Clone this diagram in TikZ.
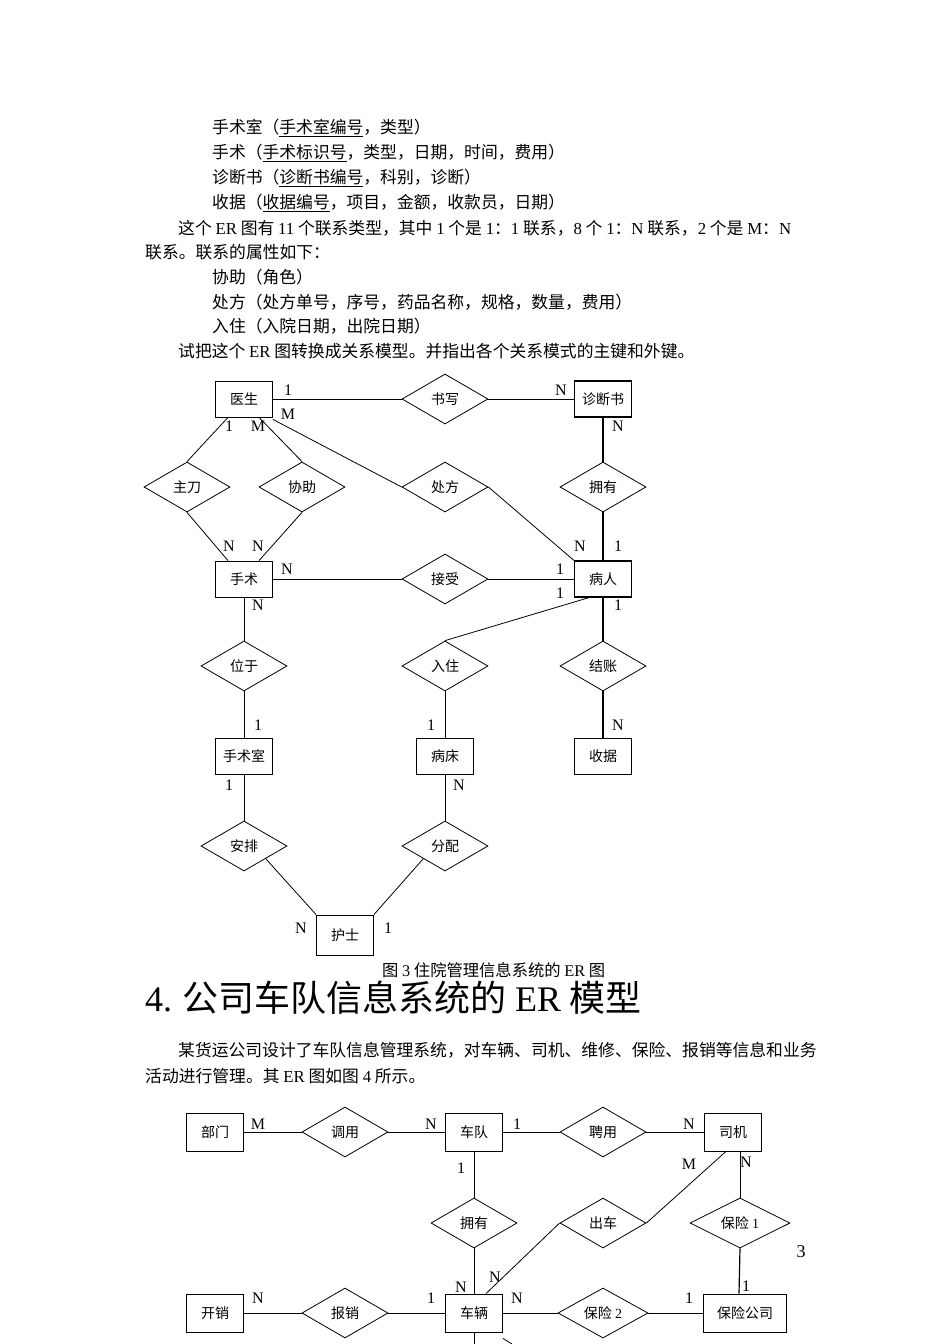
\documentclass[tikz,border=0pt]{standalone}
\usepackage{fontspec}
\setmainfont{Liberation Serif}
\newfontfamily\cjk{Noto Sans CJK SC}
\usetikzlibrary{shapes.geometric}
\begin{document}
\begin{tikzpicture}[x=1pt,y=-1pt,
 ent/.style={draw,thick,minimum width=57pt,minimum height=36pt,inner sep=0,font=\cjk\fontsize{14}{14}\selectfont},
 rel/.style={draw,thick,diamond,aspect=1.7,minimum width=86pt,minimum height=50pt,inner sep=0,font=\cjk\fontsize{14}{14}\selectfont},
 card/.style={font=\fontsize{16}{16}\selectfont,inner sep=0},
 txt/.style={anchor=west,inner sep=0,font=\cjk\fontsize{16.8}{17}\selectfont},
 ln/.style={thick}]
\useasboundingbox (0,0) rectangle (950,1344);
\fill[white] (0,0) rectangle (950,1344);
% text block
\node[txt] (t1) at (212,128) {手术室（\underline{手术室编号}，类型）};
\node[txt] (t2) at (212,153) {手术（\underline{手术标识号}，类型，日期，时间，费用）};
\node[txt] (t3) at (212,178) {诊断书（\underline{诊断书编号}，科别，诊断）};
\node[txt] (t4) at (212,203) {收据（\underline{收据编号}，项目，金额，收款员，日期）};
\node[txt] (t5) at (178,228) {这个 {\rmfamily ER} 图有 {\rmfamily 11} 个联系类型，其中 {\rmfamily 1} 个是 {\rmfamily 1}：{\rmfamily 1} 联系，{\rmfamily 8} 个 {\rmfamily 1}：{\rmfamily N} 联系，{\rmfamily 2} 个是 {\rmfamily M}：{\rmfamily N}};
\node[txt] (t6) at (145,252) {联系。联系的属性如下：};
\node[txt] (t7) at (212,277) {协助（角色）};
\node[txt] (t8) at (212,302) {处方（处方单号，序号，药品名称，规格，数量，费用）};
\node[txt] (t9) at (212,326) {入住（入院日期，出院日期）};
\node[txt] (t10) at (178,351) {试把这个 {\rmfamily ER} 图转换成关系模型。并指出各个关系模式的主键和外键。};
% top diagram
\node[ent] (ys) at (244,399) {医生};
\node[rel] (sx) at (445,399) {书写};
\node[ent,very thick] (zds) at (603,399) {诊断书};
\node[rel] (zd) at (187,487) {主刀};
\node[rel] (xz) at (302,487) {协助};
\node[rel] (cf) at (445,487) {处方};
\node[rel] (yy) at (603,487) {拥有};
\node[ent] (ss) at (244,579) {手术};
\node[rel] (js) at (445,579) {接受};
\node[ent,very thick] (br) at (603,579) {病人};
\node[rel] (wy) at (244,666) {位于};
\node[rel] (rz) at (445,666) {入住};
\node[rel] (jz) at (603,666) {结账};
\node[ent] (ssr) at (244,756) {手术室};
\node[ent] (bc) at (445,756) {病床};
\node[ent] (sj) at (603,756) {收据};
\node[rel] (ap) at (244,846) {安排};
\node[rel] (fp) at (445,846) {分配};
\node[ent,minimum height=40pt] (hs) at (345,935) {护士};
\draw[ln] (ys.east) -- (sx.west); \draw[ln] (sx.east) -- (zds.west);
\draw[ln] ([xshift=-16pt]ys.south) -- (zd.north); \draw[ln] (zd.south) -- ([xshift=-16pt]ss.north);
\draw[ln] ([xshift=15pt]ys.south) -- (xz.north); \draw[ln] (xz.south) -- ([xshift=15pt]ss.north);
\draw[ln] ([yshift=-2pt]ys.south east) -- (cf.west); \draw[ln] (cf.east) -- (br.north west);
\draw[very thick] (zds.south) -- (yy.north); \draw[very thick] (yy.south) -- (br.north);
\draw[ln] (ss.east) -- (js.west); \draw[ln] (js.east) -- (br.west);
\draw[ln] (ss.south) -- (wy.north); \draw[ln] (wy.south) -- (ssr.north);
\draw[ln] ([xshift=-14pt]br.south) -- (rz.north); \draw[ln] (rz.south) -- (bc.north);
\draw[very thick] (br.south) -- (jz.north); \draw[very thick] (jz.south) -- (sj.north);
\draw[ln] (ssr.south) -- (ap.north); \draw[ln] (bc.south) -- (fp.north);
\draw[ln] (ap.south east) -- (hs.north west); \draw[ln] (fp.south west) -- (hs.north east);
\node[card] (c1) at (288,390) {1}; \node[card] (c2) at (288,414) {M};
\node[card] (c3) at (229,426) {1}; \node[card] (c4) at (258,426) {M};
\node[card] (c5) at (561,390) {N}; \node[card] (c6) at (618,426) {N};
\node[card] (c7) at (229,546) {N}; \node[card] (c8) at (258,546) {N};
\node[card] (c9) at (580,546) {N}; \node[card] (c10) at (618,546) {1};
\node[card] (c11) at (287,569) {N}; \node[card] (c12) at (560,569) {1};
\node[card] (c13) at (560,593) {1}; \node[card] (c14) at (258,605) {N};
\node[card] (c15) at (618,605) {1};
\node[card] (c16) at (258,725) {1}; \node[card] (c17) at (431,725) {1}; \node[card] (c18) at (618,725) {N};
\node[card] (c19) at (229,785) {1}; \node[card] (c20) at (459,785) {N};
\node[card] (c21) at (301,928) {N}; \node[card] (c22) at (388,928) {1};
\node[txt,font=\cjk\fontsize{16.3}{16}\selectfont] (cap) at (382,970) {图 {\rmfamily 3} 住院管理信息系统的 {\rmfamily ER} 图};
\node[txt,font=\cjk\fontsize{36}{36}\selectfont] (h4) at (145,998) {{\rmfamily 4.} 公司车队信息系统的 {\rmfamily ER} 模型};
\node[txt] (p1) at (178,1050) {某货运公司设计了车队信息管理系统，对车辆、司机、维修、保险、报销等信息和业务};
\node[txt] (p2) at (145,1076) {活动进行管理。其 {\rmfamily ER} 图如图 {\rmfamily 4} 所示。};
\node[card,font=\fontsize{18}{18}\selectfont] (pg) at (801,1252) {3};
% bottom diagram
\begin{scope}[every node/.append style={font=\cjk\fontsize{16.5}{16}\selectfont}]
\node[ent,minimum height=38pt] (bm) at (215,1132) {部门};
\node[rel] (dy) at (345,1132) {调用};
\node[ent,minimum height=38pt] (cd) at (474,1132) {车队};
\node[rel] (py) at (603,1132) {聘用};
\node[ent,minimum height=38pt] (sjj) at (733,1132) {司机};
\node[rel] (yy2) at (474,1223) {拥有};
\node[rel] (cc) at (603,1223) {出车};
\node[rel,minimum width=100pt] (bx1) at (740,1223) {保险 {\rmfamily 1}};
\node[ent,minimum height=38pt] (kx) at (215,1313) {开销};
\node[rel] (bx) at (345,1313) {报销};
\node[ent,minimum height=38pt] (cl) at (474,1313) {车辆};
\node[rel,minimum width=90pt] (bx2) at (603,1313) {保险 {\rmfamily 2}};
\node[ent,minimum width=83pt,minimum height=38pt] (bxgs) at (745,1313) {保险公司};
\end{scope}
\coordinate (e1) at (474,1344); \coordinate (e2) at (512,1344);
\draw[ln] (bm.east) -- (dy.west); \draw[ln] (dy.east) -- (cd.west);
\draw[ln] (cd.east) -- (py.west); \draw[ln] (py.east) -- (sjj.west);
\draw[ln] (cd.south) -- (yy2.north); \draw[ln] (yy2.south) -- (cl.north);
\draw[ln] ([xshift=-7pt]sjj.south) -- (cc.east); \draw[ln] (cc.west) -- ([xshift=12pt]cl.north);
\draw[ln] ([xshift=7pt]sjj.south) -- (bx1.north); \draw[very thick] (bx1.south) -- ([xshift=-6pt]bxgs.north);
\draw[ln] (kx.east) -- (bx.west); \draw[ln] (bx.east) -- (cl.west);
\draw[ln] (cl.east) -- (bx2.west); \draw[ln] (bx2.east) -- (bxgs.west);
\draw[ln] (cl.south) -- (e1); \draw[ln] ([yshift=-6pt]cl.south east) -- (e2);
\node[card] (d1) at (258,1124) {M}; \node[card] (d2) at (431,1124) {N}; \node[card] (d3) at (517,1124) {1};
\node[card] (d4) at (689,1124) {N}; \node[card] (d5) at (461,1168) {1}; \node[card] (d6) at (689,1164) {M};
\node[card] (d7) at (746,1162) {N}; \node[card] (d8) at (495,1277) {N}; \node[card] (d9) at (461,1287) {N};
\node[card] (d10) at (517,1298) {N}; \node[card] (d11) at (746,1286) {1}; \node[card] (d12) at (689,1298) {1};
\node[card] (d13) at (258,1298) {N}; \node[card] (d14) at (431,1298) {1};
\end{tikzpicture}
\end{document}
